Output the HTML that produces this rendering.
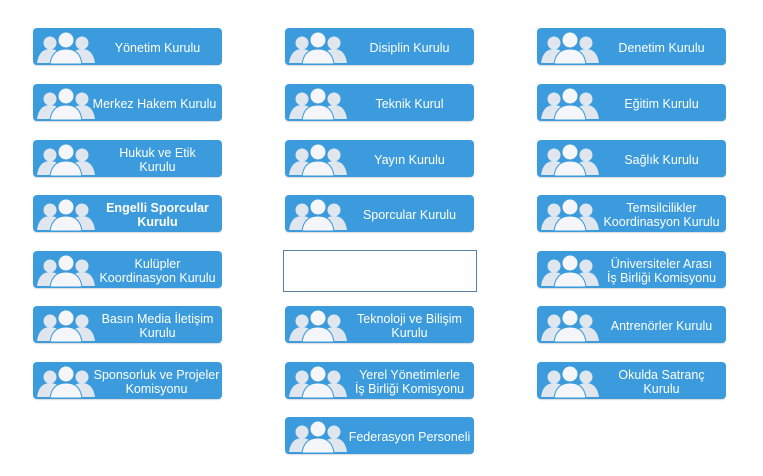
<!DOCTYPE html>
<html><head><meta charset="utf-8"><style>
body{margin:0;width:763px;height:476px;background:#fff;position:relative;overflow:hidden;font-family:"Liberation Sans","DejaVu Sans",sans-serif;}
.b{position:absolute;width:189px;height:37px;background:#3b9bdc;border-radius:4px;box-shadow:0 1px 1px rgba(0,0,0,.15);}
.b svg{position:absolute;left:4px;top:3px;}
.t{position:absolute;left:62px;right:2px;top:2px;bottom:0;display:flex;align-items:center;justify-content:center;text-align:center;color:#fff;font-size:12.5px;line-height:14px;white-space:nowrap;}
.bold{font-weight:bold;font-size:12.5px;}
.img{position:absolute;left:283px;top:250px;width:192px;height:40px;border:1px solid #5a7fa8;background:#fff;}
</style></head><body>
<svg width="0" height="0" style="position:absolute"><defs>
<g id="ic">
<circle cx="13" cy="12" r="6.5" fill="#dfe6ee"/><path d="M0 32 Q2 18 13 18 Q24 18 26 32Z" fill="#dfe6ee"/>
<circle cx="45" cy="12" r="6.5" fill="#dfe6ee"/><path d="M32 32 Q34 18 45 18 Q56 18 58 32Z" fill="#dfe6ee"/>
<circle cx="29" cy="9" r="8" fill="#f4f6f9" stroke="#3b9bdc" stroke-width="1"/><path d="M13 33 Q15 18 29 18 Q43 18 45 33Z" fill="#f4f6f9" stroke="#3b9bdc" stroke-width="1"/>
</g></defs></svg>

<div class="b" style="left:33px;top:28px"><svg width="58" height="33"><use href="#ic"/></svg><div class="t">Yönetim Kurulu</div></div>
<div class="b" style="left:285px;top:28px"><svg width="58" height="33"><use href="#ic"/></svg><div class="t">Disiplin Kurulu</div></div>
<div class="b" style="left:537px;top:28px"><svg width="58" height="33"><use href="#ic"/></svg><div class="t">Denetim Kurulu</div></div>

<div class="b" style="left:33px;top:84px"><svg width="58" height="33"><use href="#ic"/></svg><div class="t" style="left:56px">Merkez Hakem Kurulu</div></div>
<div class="b" style="left:285px;top:84px"><svg width="58" height="33"><use href="#ic"/></svg><div class="t">Teknik Kurul</div></div>
<div class="b" style="left:537px;top:84px"><svg width="58" height="33"><use href="#ic"/></svg><div class="t">Eğitim Kurulu</div></div>

<div class="b" style="left:33px;top:140px"><svg width="58" height="33"><use href="#ic"/></svg><div class="t">Hukuk ve Etik<br>Kurulu</div></div>
<div class="b" style="left:285px;top:140px"><svg width="58" height="33"><use href="#ic"/></svg><div class="t">Yayın Kurulu</div></div>
<div class="b" style="left:537px;top:140px"><svg width="58" height="33"><use href="#ic"/></svg><div class="t">Sağlık Kurulu</div></div>

<div class="b" style="left:33px;top:195px"><svg width="58" height="33"><use href="#ic"/></svg><div class="t bold">Engelli Sporcular<br>Kurulu</div></div>
<div class="b" style="left:285px;top:195px"><svg width="58" height="33"><use href="#ic"/></svg><div class="t">Sporcular Kurulu</div></div>
<div class="b" style="left:537px;top:195px"><svg width="58" height="33"><use href="#ic"/></svg><div class="t">Temsilcilikler<br>Koordinasyon Kurulu</div></div>

<div class="b" style="left:33px;top:251px"><svg width="58" height="33"><use href="#ic"/></svg><div class="t">Kulüpler<br>Koordinasyon Kurulu</div></div>
<div class="img"></div>
<div class="b" style="left:537px;top:251px"><svg width="58" height="33"><use href="#ic"/></svg><div class="t">Üniversiteler Arası<br>İş Birliği Komisyonu</div></div>

<div class="b" style="left:33px;top:306px"><svg width="58" height="33"><use href="#ic"/></svg><div class="t">Basın Media İletişim<br>Kurulu</div></div>
<div class="b" style="left:285px;top:306px"><svg width="58" height="33"><use href="#ic"/></svg><div class="t">Teknoloji ve Bilişim<br>Kurulu</div></div>
<div class="b" style="left:537px;top:306px"><svg width="58" height="33"><use href="#ic"/></svg><div class="t">Antrenörler Kurulu</div></div>

<div class="b" style="left:33px;top:362px"><svg width="58" height="33"><use href="#ic"/></svg><div class="t" style="left:58px;right:0">Sponsorluk ve Projeler<br>Komisyonu</div></div>
<div class="b" style="left:285px;top:362px"><svg width="58" height="33"><use href="#ic"/></svg><div class="t">Yerel Yönetimlerle<br>İş Birliği Komisyonu</div></div>
<div class="b" style="left:537px;top:362px"><svg width="58" height="33"><use href="#ic"/></svg><div class="t">Okulda Satranç<br>Kurulu</div></div>

<div class="b" style="left:285px;top:417px"><svg width="58" height="33"><use href="#ic"/></svg><div class="t">Federasyon Personeli</div></div>
</body></html>
